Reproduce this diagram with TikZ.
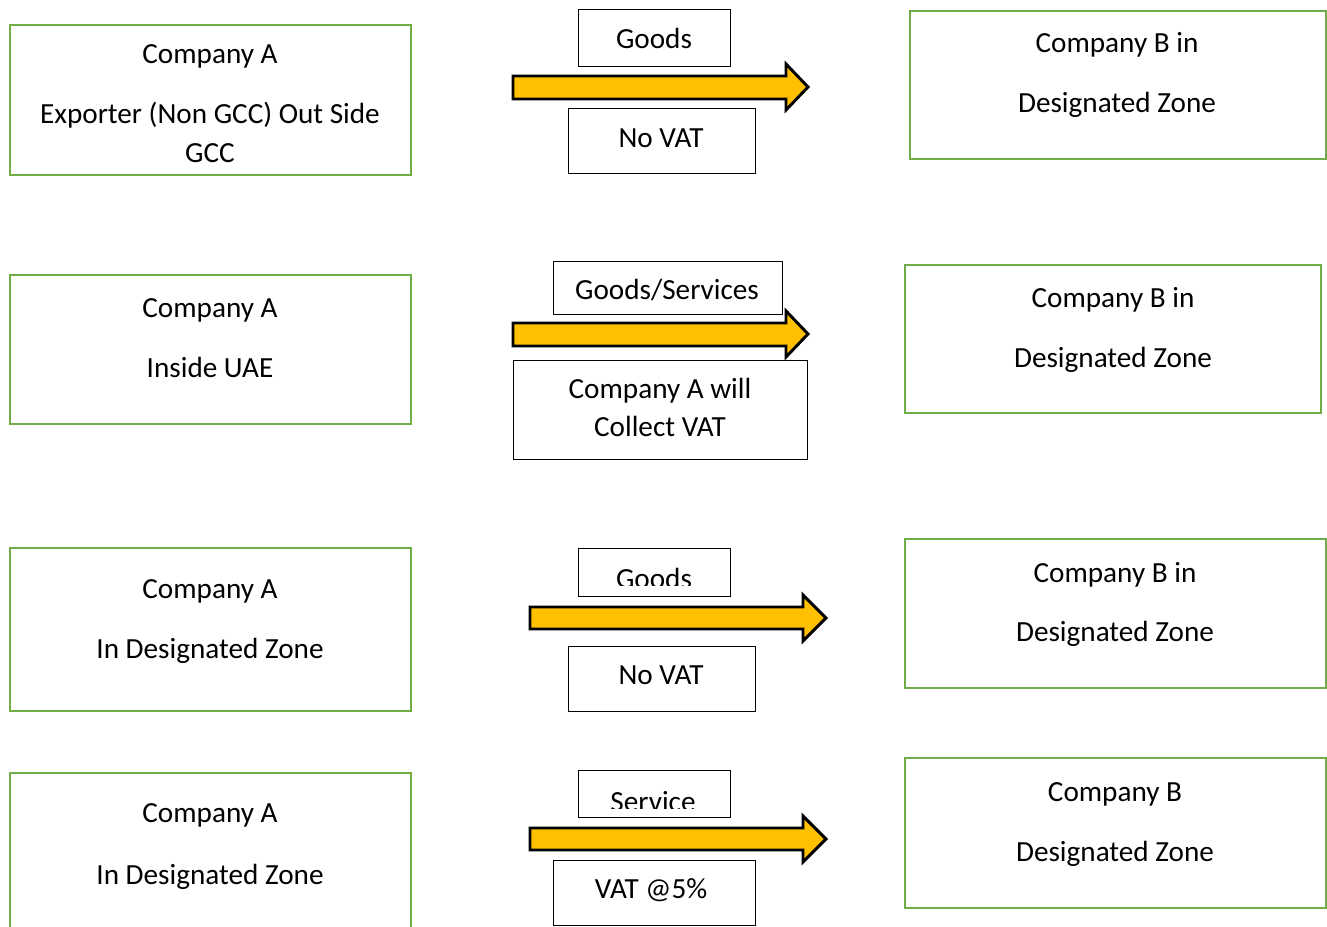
\documentclass[tikz,border=0pt]{standalone}
\usepackage{fontspec}
\setmainfont{Carlito}
\definecolor{boxgreen}{HTML}{70AD47}
\definecolor{arrowgold}{HTML}{FFC000}
\begin{document}
\begin{tikzpicture}[x=0.75pt,y=-0.75pt,
  greenbox/.style={draw=boxgreen,line width=2.2pt},
  labelbox/.style={draw=black,line width=0.75pt},
  fatarrow/.style={draw=black,fill=arrowgold,line width=2.2pt,line join=miter},
  txt/.style={anchor=base,inner sep=0pt,font=\fontsize{21.9pt}{26pt}\selectfont}]
\clip (0,0) rectangle (1327,927);
\fill[white] (0,0) rectangle (1327,927);

% ---------- Row 1 ----------
\draw[greenbox] (10,25) rectangle (411,175);
\node[txt] (a1l1) at (210,63.5) {Company A};
\node[txt] (a1l2) at (210,123.5) {Exporter (Non GCC) Out Side};
\node[txt] (a1l3) at (210,163) {GCC};
\draw[greenbox] (910,11) rectangle (1326,159);
\node[txt] (b1l1) at (1117,53) {Company B in};
\node[txt] (b1l2) at (1117,113) {Designated Zone};
\draw[labelbox] (578,10) rectangle (730,67);
\node[txt] (g1) at (654,49) {Goods};
\draw[labelbox] (568,109) rectangle (755,174);
\node[txt] (v1) at (661,148) {No VAT};
\draw[fatarrow] (513,76) -- (786,76) -- (786,64) -- (808,87) -- (786,110) -- (786,99) -- (513,99) -- cycle;

% ---------- Row 2 ----------
\draw[greenbox] (10,275) rectangle (411,424);
\node[txt] (a2l1) at (210,317) {Company A};
\node[txt] (a2l2) at (210,377) {Inside UAE};
\draw[greenbox] (905,265) rectangle (1321,413);
\node[txt] (b2l1) at (1113,307) {Company B in};
\node[txt] (b2l2) at (1113,367) {Designated Zone};
\draw[labelbox] (553,262) rectangle (782,314);
\node[txt] (g2) at (667,300) {Goods/Services};
\draw[labelbox] (513,360) rectangle (807,459);
\node[txt] (v2l1) at (660,398) {Company A will};
\node[txt] (v2l2) at (660,436) {Collect VAT};
\draw[fatarrow] (513,323) -- (786,323) -- (786,311) -- (808,334) -- (786,357) -- (786,346) -- (513,346) -- cycle;

% ---------- Row 3 ----------
\draw[greenbox] (10,548) rectangle (411,711);
\node[txt] (a3l1) at (210,598) {Company A};
\node[txt] (a3l2) at (210,658) {In Designated Zone};
\draw[greenbox] (905,539) rectangle (1326,688);
\node[txt] (b3l1) at (1115,582) {Company B in};
\node[txt] (b3l2) at (1115,641) {Designated Zone};
\draw[labelbox] (578,548) rectangle (730,596);
\begin{scope}
  \clip (578,548) rectangle (730,585);
  \node[txt] (g3) at (654,588) {Goods};
\end{scope}
\draw[labelbox] (568,646) rectangle (755,711);
\node[txt] (v3) at (661,684) {No VAT};
\draw[fatarrow] (530,607) -- (803,607) -- (803,595) -- (826,618) -- (803,641) -- (803,629) -- (530,629) -- cycle;

% ---------- Row 4 ----------
\draw[greenbox] (10,773) rectangle (411,960);
\node[txt] (a4l1) at (210,822) {Company A};
\node[txt] (a4l2) at (210,884) {In Designated Zone};
\draw[greenbox] (905,758) rectangle (1326,908);
\node[txt] (b4l1) at (1115,801) {Company B};
\node[txt] (b4l2) at (1115,861) {Designated Zone};
\draw[labelbox] (578,770) rectangle (730,817);
\begin{scope}
  \clip (578,770) rectangle (730,808);
  \node[txt] (g4) at (653,811) {Service};
\end{scope}
\draw[labelbox] (553,860) rectangle (755,925);
\node[txt] (v4) at (651,898) {VAT @5\%};
\draw[fatarrow] (530,828) -- (803,828) -- (803,816) -- (826,839) -- (803,862) -- (803,850) -- (530,850) -- cycle;
\end{tikzpicture}
\end{document}
